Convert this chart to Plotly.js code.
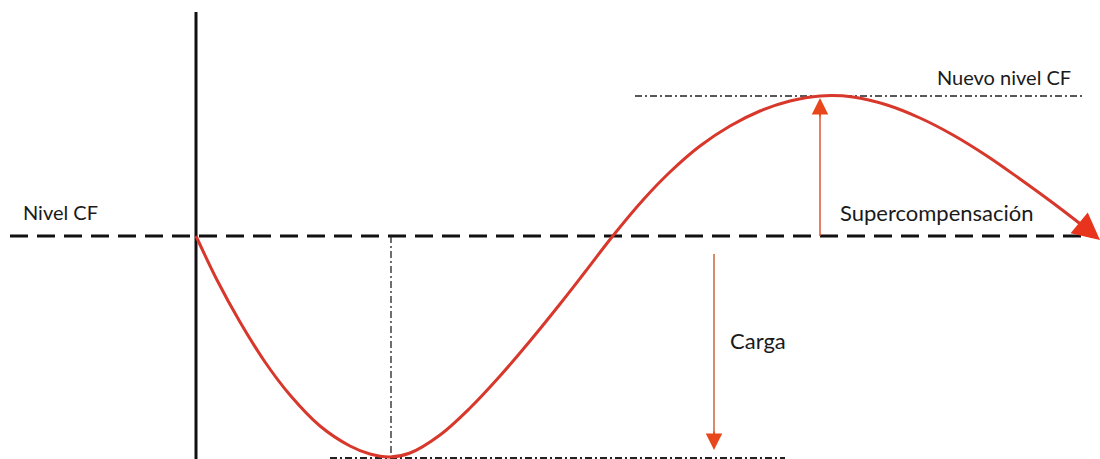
<!DOCTYPE html>
<html>
<head>
<meta charset="utf-8">
<script src="https://cdn.plot.ly/plotly-3.0.1.min.js"></script>
<style>html,body{margin:0;padding:0;background:#fff;}#chart{width:1100px;height:459px;}</style>
</head>
<body>
<div id="chart"></div>
<script>
// Time (t) and fitness level (CF)
const curveTime  = [0,21,44,69,94,124,154,174,194,214,244,274,304,334,364,389,416,447,474,504,534,564,594,624,657,691,724,757,791,824,857,887];
const curveLevel = [0,-44,-86,-126,-159,-190,-210,-218,-221,-217,-199,-172,-140,-105,-68,-36,-1,36,64,90,110,125,135,140,139,131,118,101,80,57,33,10];
const curveTip = [904, -4];

const baseLevel = 0;       // Nivel CF
const newLevel = 140;      // Nuevo nivel CF
const minLevel = -222;     // lowest point after load
const minTime = 195;
const peakTime = 624;

const axisTime = [0, 0];
const axisLevel = [224, -223];
const baseTime = [-186, 899];
const newLevelTime = [439, 889];
const minLevelTime = [134, 589];
const supArrow = {t: peakTime, from: 0, to: 138};
const loadArrow = {t: 518, from: -18, to: -214};

const labels = ["Nivel CF", "Nuevo nivel CF", "Supercompensación", "Carga"];
const labelTime = [-175, 739, 642, 532];
const labelLevel = [24, 159, 24, -104];
const labelSize = [20, 20, 22, 22];

const font = "Lato, 'Open Sans', sans-serif";
const traces = [
  {x: axisTime, y: axisLevel, mode: 'lines', line: {color: '#111', width: 3}},
  {x: baseTime, y: [baseLevel, baseLevel], mode: 'lines', line: {color: '#111', width: 3, dash: '18px,9px'}},
  {x: newLevelTime, y: [newLevel, newLevel], mode: 'lines', line: {color: '#222', width: 1.3, dash: '7px,3px,2px,3px'}},
  {x: minLevelTime, y: [minLevel, minLevel], mode: 'lines', line: {color: '#222', width: 2.2, dash: '7px,3px,2px,3px'}},
  {x: [minTime, minTime], y: [baseLevel, minLevel], mode: 'lines', line: {color: '#222', width: 1.3, dash: '7px,3px,2px,3px'}},
  {x: curveTime, y: curveLevel, mode: 'lines', line: {color: '#d8372b', width: 3, shape: 'spline', smoothing: 1}},
  {x: [supArrow.t, supArrow.t], y: [supArrow.from, supArrow.to - 6], mode: 'lines', line: {color: '#e0552f', width: 1.5}},
  {x: [loadArrow.t, loadArrow.t], y: [loadArrow.from, loadArrow.to + 6], mode: 'lines', line: {color: '#d98a66', width: 2}}
];

const annotations = labels.map((s, i) => ({
  x: labelTime[i], y: labelLevel[i], xref: 'x', yref: 'y', text: s, showarrow: false,
  xanchor: 'left', yanchor: 'middle', font: {family: font, size: labelSize[i], color: '#1a1a1a'}
}));
annotations.push({x: supArrow.t, y: supArrow.to, ax: supArrow.t, ay: supArrow.to - 20, xref: 'x', yref: 'y', axref: 'x', ayref: 'y',
  text: '', showarrow: true, arrowhead: 2, arrowsize: 2.2, arrowwidth: 1.5, arrowcolor: '#e8471c'});
annotations.push({x: loadArrow.t, y: loadArrow.to, ax: loadArrow.t, ay: loadArrow.to + 20, xref: 'x', yref: 'y', axref: 'x', ayref: 'y',
  text: '', showarrow: true, arrowhead: 2, arrowsize: 2.2, arrowwidth: 1.5, arrowcolor: '#e8471c'});
annotations.push({x: curveTip[0], y: curveTip[1], ax: curveTime[curveTime.length-1], ay: curveLevel[curveLevel.length-1], xref: 'x', yref: 'y', axref: 'x', ayref: 'y',
  text: '', showarrow: true, arrowhead: 2, arrowsize: 1.8, arrowwidth: 3, arrowcolor: '#e8341c'});

const layout = {
  width: 1100, height: 459, margin: {l: 0, r: 0, t: 0, b: 0},
  paper_bgcolor: '#fff', plot_bgcolor: '#fff', showlegend: false,
  xaxis: {range: [-196, 904], visible: false, fixedrange: true},
  yaxis: {range: [-223, 236], visible: false, fixedrange: true},
  annotations: annotations
};
Plotly.newPlot('chart', traces.map(t => Object.assign({hoverinfo: 'skip', cliponaxis: false}, t)), layout, {staticPlot: true});
</script>
</body>
</html>
